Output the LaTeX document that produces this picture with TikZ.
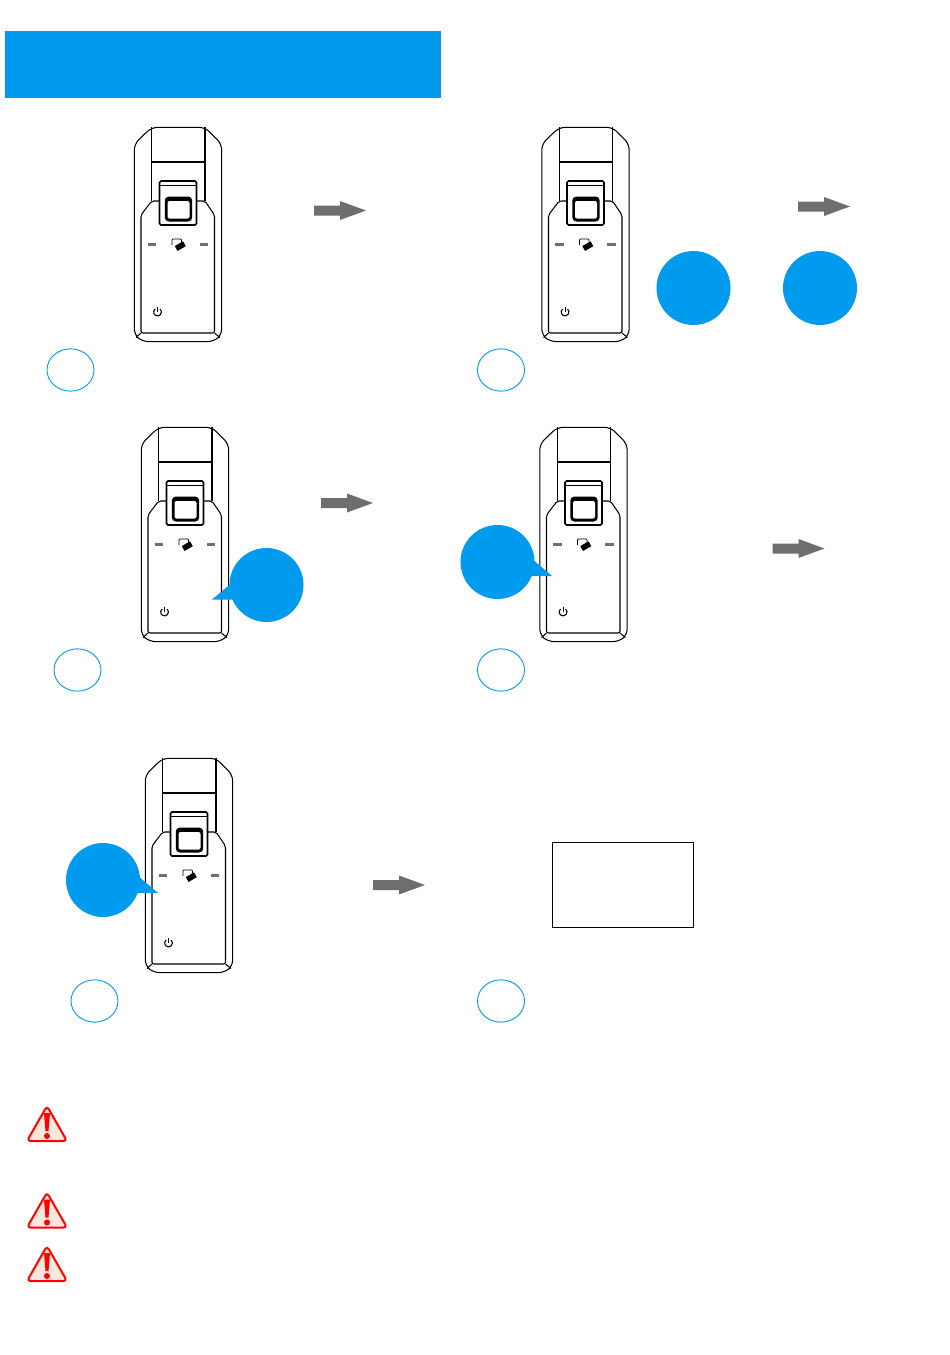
\documentclass[tikz,border=0pt]{standalone}
\definecolor{hdr}{HTML}{009BEE}
\definecolor{arr}{HTML}{6E6E6E}
\definecolor{warn}{HTML}{FF0000}
\definecolor{warnbg}{HTML}{FDE6DC}
\tikzset{
  x=1pt,y=-1pt,
  devline/.style={draw=black,line width=1.05pt,line join=round},
  tag/.style={circle,draw=hdr,fill=white,line width=0.9pt,minimum width=47pt,inner sep=0pt,yscale=0.9},
  bluec/.style={circle,fill=hdr,minimum size=74pt,inner sep=0pt},
  device/.pic={
    \draw[devline,rounded corners=6pt] (151.7,127.3) -- (134.3,144) -- (134.3,335) -- (143,341.7) -- (213,341.7) -- (221.7,335) -- (221.7,144) -- (205,127.3) -- cycle;
    \draw[devline] (151.7,127.3) -- (151.7,201);
    \draw[devline] (205,127.3) -- (205,201);
    \draw[devline] (151.7,162) -- (205,162);
    \draw[devline,rounded corners=2pt] (159.5,201) -- (151.7,201) -- (141,215) -- (141,333) -- (214.5,333) -- (214.5,215) -- (205,201) -- (196.5,201);
    \draw[devline,rounded corners=1pt] (141,333) -- (136,337.5);
    \draw[devline,rounded corners=1pt] (214.5,333) -- (220,337.5);
    \draw[black,line width=1.6pt,rounded corners=1.5pt,fill=white] (159.5,181) rectangle (196.5,225);
    \draw[black,line width=1pt] (159.5,185) -- (196.5,185);
    \fill[black,rounded corners=4pt] (164.8,196.5) rectangle (192.2,221.5);
    \fill[white,rounded corners=2pt] (167.5,201) -- (189.5,201) -- (189.5,218.5) -- (167.5,218.5) -- cycle;
    \fill[arr] (147.5,242.6) rectangle (156,245.6);
    \fill[arr] (199.5,242.6) rectangle (208,245.6);
    \draw[black,line width=0.7pt,rounded corners=0.8pt] (172,245) -- (172,239) -- (181.5,239) -- (181.5,242);
    \fill[black,rotate around={30:(180.5,246)}] (175.5,243.2) rectangle (185,248.8);
    \draw[black,line width=1.1pt] (160.1,309) arc[start angle=-50,end angle=230,radius=3.9];
    \draw[black,line width=1.1pt] (157.6,306.8) -- (157.6,312);
  },
  warnsign/.pic={
    \draw[warn,fill=warnbg,line width=2pt,rounded corners=3.5pt,line join=round] (0,-18) -- (20,17) -- (-20,17) -- cycle;
    \fill[warn] (-3,-11) -- (3,-11) -- (1.5,7) -- (-1.5,7) -- cycle;
    \fill[warn] (0,12) circle[radius=3];
  }
}
\begin{document}
\begin{tikzpicture}
\useasboundingbox (0,0) rectangle (950,1355);
\fill[hdr] (5,31) rectangle (441,98);

\pic {device};
\begin{scope}[shift={(407.5,0)}] \pic {device}; \end{scope}
\begin{scope}[shift={(7,300)}] \pic {device}; \end{scope}
\begin{scope}[shift={(405.5,300)}] \pic {device}; \end{scope}
\begin{scope}[shift={(11,631)}] \pic {device}; \end{scope}

% grey arrows
\foreach \ax/\ay in {340/210.5,824/206.5,347/503,798.5/548.5,399/885}{
  \fill[arr] (\ax-26,\ay-5) -- (\ax,\ay-5) -- (\ax,\ay-9.5) -- (\ax+26,\ay) -- (\ax,\ay+9.5) -- (\ax,\ay+5) -- (\ax-26,\ay+5) -- cycle;
}

% tags
\node[tag] (t1) at (70.5,370) {};
\node[tag] (t2) at (501,370) {};
\node[tag] (t3) at (77.5,670) {};
\node[tag] (t4) at (501,670) {};
\node[tag] (t5) at (94.5,1001) {};
\node[tag] (t6) at (501,1001) {};

% blue discs
\node[bluec] (b1) at (693.5,288) {};
\node[bluec] (b2) at (820,288) {};
\fill[hdr] (212,599.5) -- (233,582) -- (236,599.5) -- cycle;
\node[bluec] (b3) at (266.5,585) {};
\fill[hdr] (552,576) -- (531,558) -- (526,576) -- cycle;
\node[bluec] (b4) at (497.5,562) {};
\fill[hdr] (158,893) -- (137,875) -- (132,893) -- cycle;
\node[bluec] (b5) at (103,880) {};

\node[draw=black,line width=0.6pt,minimum width=141.5pt,minimum height=85.5pt,inner sep=0pt] (box) at (622.8,884.8) {};

\pic at (47,1124) {warnsign};
\pic at (47,1210.5) {warnsign};
\pic at (47,1264) {warnsign};
\end{tikzpicture}
\end{document}
